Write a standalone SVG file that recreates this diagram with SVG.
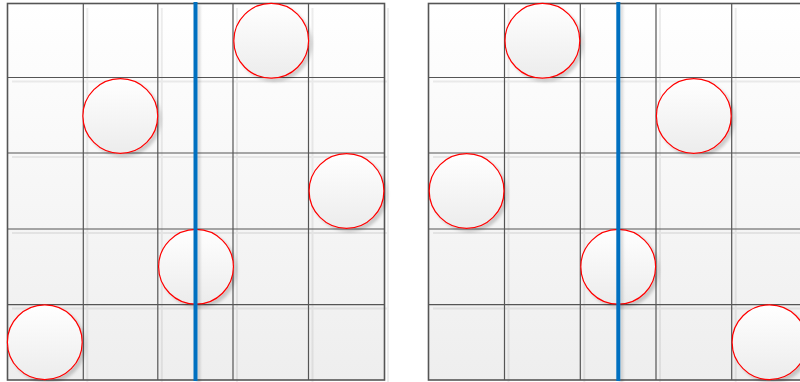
<svg xmlns="http://www.w3.org/2000/svg" width="800" height="382" viewBox="0 0 800 382">
<defs>
<linearGradient id="cellg" gradientUnits="userSpaceOnUse" x1="0" y1="3" x2="0" y2="380">
<stop offset="0" stop-color="#ffffff"/><stop offset="1" stop-color="#eeeeee"/>
</linearGradient>
<linearGradient id="circg" x1="0" y1="0" x2="0" y2="1">
<stop offset="0" stop-color="#ffffff"/><stop offset="1" stop-color="#ececec"/>
</linearGradient>
<filter id="sh" x="-20%" y="-20%" width="150%" height="150%">
<feDropShadow dx="3" dy="3" stdDeviation="1.5" flood-color="#000" flood-opacity="0.18"/>
</filter>
<filter id="shl" filterUnits="userSpaceOnUse" x="0" y="0" width="800" height="382">
<feDropShadow dx="3" dy="3" stdDeviation="1" flood-color="#000" flood-opacity="0.12"/>
</filter>
</defs>
<style>
.bg{fill:url(#cellg);}
.sl{fill:none;stroke:#000;stroke-opacity:0.07;stroke-width:2;}
.gl{fill:none;stroke:#555;stroke-width:1.2;}
.bd{fill:none;stroke:#555;stroke-width:1.6;}
.c{fill:url(#circg);stroke:#ff0000;stroke-width:1.2;filter:url(#sh);}
.blue{fill:#0070c0;filter:url(#shl);}
</style>
<g id="grid-left">
<rect class="bg" x="7.5" y="3.5" width="377" height="376.5"/>
<path class="sl" d="M87.3 8V384M161.8 8V384M237 8V384M312.5 8V384M388 8V384M12 81.5H388M12 157H388M12 233H388M12 308.6H388"/>
<path class="gl" d="M83.3 3.5V380M157.8 3.5V380M233 3.5V380M308.5 3.5V380M7.5 77.5H384.5M7.5 153H384.5M7.5 229H384.5M7.5 304.6H384.5"/>
<rect class="bd" x="7.5" y="3.5" width="377" height="376.5"/>
</g>
<g id="grid-right">
<rect class="bg" x="428.5" y="3.5" width="379" height="376.5"/>
<path class="sl" d="M508.5 8V384M584.3 8V384M660 8V384M735.7 8V384M433 81.5H812M433 157H812M433 233H812M433 308.6H812"/>
<path class="gl" d="M504.5 3.5V380M580.3 3.5V380M656 3.5V380M731.7 3.5V380M428.5 77.5H807.5M428.5 153H807.5M428.5 229H807.5M428.5 304.6H807.5"/>
<rect class="bd" x="428.5" y="3.5" width="379" height="376.5"/>
</g>
<g id="L1"><circle class="c" cx="271.2" cy="40.8" r="37.4"/></g>
<g id="L2"><circle class="c" cx="120.3" cy="116" r="37.4"/></g>
<g id="L3"><circle class="c" cx="346.5" cy="191" r="37.4"/></g>
<g id="L4"><circle class="c" cx="196" cy="266.8" r="37.4"/></g>
<g id="L5"><circle class="c" cx="44.8" cy="342.2" r="37.4"/></g>
<g id="R1"><circle class="c" cx="542.4" cy="40.8" r="37.4"/></g>
<g id="R2"><circle class="c" cx="693.8" cy="116" r="37.4"/></g>
<g id="R3"><circle class="c" cx="466.6" cy="191" r="37.4"/></g>
<g id="R4"><circle class="c" cx="618.2" cy="266.8" r="37.4"/></g>
<g id="R5"><circle class="c" cx="769.5" cy="342.2" r="37.4"/></g>
<g id="connectors">
<rect class="blue" x="193.5" y="2" width="4" height="379"/>
<rect class="blue" x="616.3" y="2" width="4" height="379"/>
</g>
</svg>
